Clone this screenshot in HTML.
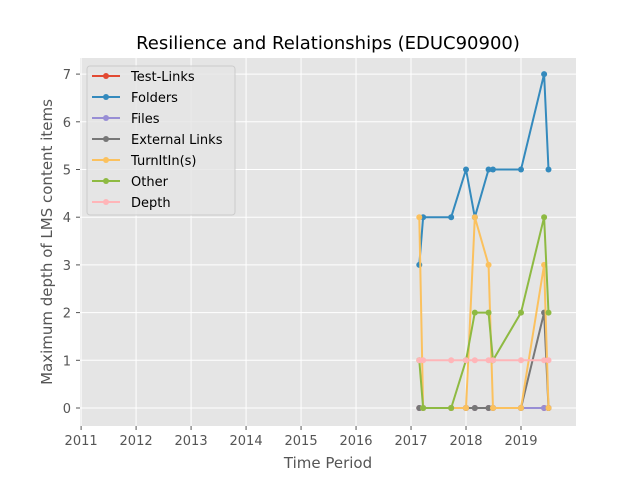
<!DOCTYPE html>
<html><head><meta charset="utf-8"><style>
body{margin:0;background:#fff;}
svg text{font-family:"DejaVu Sans","Liberation Sans",sans-serif;}
</style></head><body>
<svg id="chart" width="640" height="480" xmlns="http://www.w3.org/2000/svg">
<rect x="0" y="0" width="640" height="480" fill="#fff"/>
<rect x="80" y="58" width="496" height="368" fill="#e5e5e5"/>
<g id="grid"></g>
<g id="axes"></g>
<g id="series"></g>
<text x="328" y="49" font-size="18" text-anchor="middle" fill="#000">Resilience and Relationships (EDUC90900)</text>
<text x="328" y="468" font-size="15" text-anchor="middle" fill="#555">Time Period</text>
<text transform="translate(52,242) rotate(-90)" font-size="15" text-anchor="middle" fill="#555">Maximum depth of LMS content items</text>
<g id="legend"></g>
</svg>
<script>
const dates = [2017.15, 2017.22, 2017.73, 2018.0, 2018.16, 2018.41, 2018.49, 2019.0, 2019.42, 2019.5];
const testLinks = [0,0,0,0,0,0,0,0,0,0];
const folders = [3,4,4,5,4,5,5,5,7,5];
const files = [0,0,0,0,0,0,0,0,0,0];
const externalLinks = [0,0,0,0,0,0,0,0,2,0];
const turnitin = [4,0,0,0,4,3,0,0,3,0];
const other = [1,0,0,1,2,2,1,2,4,2];
const depth = [1,1,1,1,1,1,1,1,1,1];
const xTicks = [2011,2012,2013,2014,2015,2016,2017,2018,2019];
const yTicks = [0,1,2,3,4,5,6,7];
const seriesNames = ["Test-Links","Folders","Files","External Links","TurnItIn(s)","Other","Depth"];
const seriesColors = ["#e24a33","#348abd","#988ed5","#777777","#fbc15e","#8eba42","#ffb5b8"];
const seriesData = [testLinks,folders,files,externalLinks,turnitin,other,depth];
const NS="http://www.w3.org/2000/svg";
const X0=80,X1=576,Y0=426,Y1=58;
const xs=v=>X0+(v-2010.98)/(2020.0-2010.98)*(X1-X0);
const ys=v=>408-v*47.7;
function mk(t,a,p){const e=document.createElementNS(NS,t);for(const k in a)e.setAttribute(k,a[k]);p.appendChild(e);return e;}
const grid=document.getElementById('grid'),axes=document.getElementById('axes');
xTicks.forEach(t=>{const x=xs(t);
 const g=mk('line',{x1:x,x2:x,y1:Y1,y2:Y0,stroke:'#fff','stroke-width':1},grid);
 
 mk('line',{x1:x,x2:x,y1:Y0,y2:Y0+4,stroke:'#555'},axes);
 const l=mk('text',{x:x,y:Y0+19,'font-size':13,'text-anchor':'middle',fill:'#555'},axes);l.textContent=t;
 });
yTicks.forEach(t=>{const y=ys(t);
 const g=mk('line',{x1:X0,x2:X1,y1:y,y2:y,stroke:'#fff','stroke-width':1},grid);
 
 mk('line',{x1:X0-4,x2:X0,y1:y,y2:y,stroke:'#555'},axes);
 const l=mk('text',{x:X0-9,y:y+5,'font-size':13,'text-anchor':'end',fill:'#555'},axes);l.textContent=t;
 });
const sg=document.getElementById('series');
seriesData.forEach((d,i)=>{const g=mk('g',{},sg);
 
 
 mk('polyline',{points:d.map((v,j)=>xs(dates[j])+','+ys(v)).join(' '),fill:'none',stroke:seriesColors[i],'stroke-width':2}, g);
 d.forEach((v,j)=>{const c=mk('circle',{cx:xs(dates[j]),cy:ys(v),r:3,fill:seriesColors[i]},g);
  });});
const lg=document.getElementById('legend');
mk('rect',{x:87,y:66,width:148,height:149,rx:3,fill:'#e5e5e5',stroke:'#cccccc','fill-opacity':0.8},lg);
seriesNames.forEach((n,i)=>{const y=76+i*21;
 const e=mk('g',{},lg);
 mk('line',{x1:92,x2:120,y1:y,y2:y,stroke:seriesColors[i],'stroke-width':2},e);
 mk('circle',{cx:106,cy:y,r:3,fill:seriesColors[i]},e);
 const t=mk('text',{x:131,y:y+5,'font-size':13,fill:'#000'},e);t.textContent=n;});
</script>
</body></html>
